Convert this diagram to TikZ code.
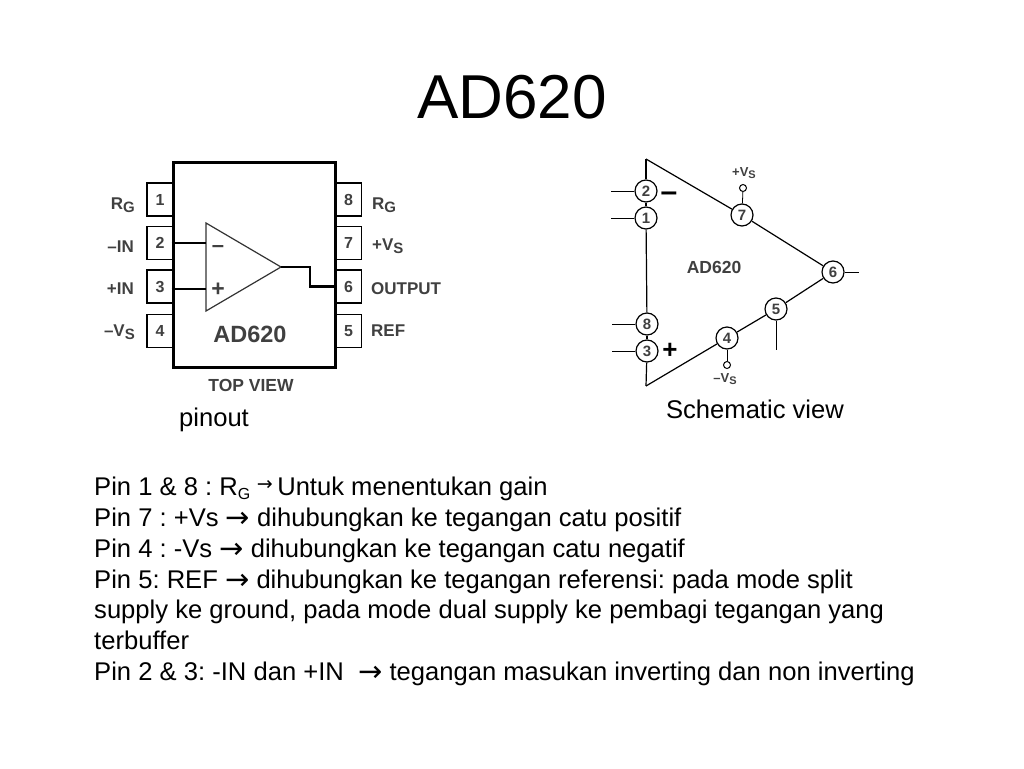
\documentclass[tikz,border=0pt]{standalone}
\usepackage{fontspec}
\setmainfont{Liberation Sans}
\newfontfamily\arrowfont{DejaVu Sans}
\frenchspacing
\newcommand{\sz}[1]{\fontsize{#1}{#1}\selectfont}
\newcommand{\subG}[1]{\raisebox{-3.5pt}{\sz{15}#1}}
\newcommand{\subV}[1]{\raisebox{-2.5pt}{\sz{11}#1}}
\newcommand{\arr}{{\arrowfont\sz{29}\raisebox{-1pt}{→}}}
\tikzset{
	pinbox/.style={draw,line width=1.2pt,minimum width=26pt,minimum height=33pt,inner sep=0pt,text=black!75,font=\sz{16}\bfseries},
	pinname/.style={inner sep=0pt,text=black!75,font=\sz{17}\bfseries},
	pincirc/.style={circle,draw,fill=white,line width=1.2pt,minimum size=22pt,inner sep=0pt,text=black!75,font=\sz{15}\bfseries},
	term/.style={circle,draw,line width=1pt,minimum size=7pt,inner sep=0pt},
	caption/.style={inner sep=0pt,font=\sz{25.6}}
}
\begin{document}
\begin{tikzpicture}[x=1pt,y=-1pt]
	\useasboundingbox (0,0) rectangle (1024,768);
	\node(title)[inner sep=0pt,font=\sz{62}] at (512,97) {AD620};
	\foreach \n/\y in {1/199.5,2/243,3/286.5,4/331}
		\node(pin\n)[pinbox] at (160,\y) {\n};
	\foreach \n/\y in {8/199.5,7/243,6/286.5,5/331}
		\node(pin\n)[pinbox] at (348.5,\y) {\n};
	\node(body)[draw,line width=3pt,fill=white,minimum width=162pt,minimum height=205pt] at (254,264.5) {};
	\coordinate(ina) at (206,243);
	\coordinate(inb) at (206,289);
	\coordinate(tip) at (281,267);
	\coordinate(jog) at (310,267);
	\draw[line width=1.2pt,black!80] (206,223) -- (tip) -- (206,311) -- cycle;
	\draw[line width=2.2pt] (body.west |- ina) -- (ina);
	\draw[line width=2.2pt] (body.west |- inb) -- (inb);
	\draw[line width=2.2pt] (tip) -- (jog) |- (pin6.west);
	\node(minus)[pinname,font=\sz{22}\bfseries] at (218,249) {–};
	\node(plus)[pinname,font=\sz{23}\bfseries] at (218,290) {+};
	\node(chip)[pinname,font=\sz{23.5}\bfseries] at (250,334) {AD620};
	\node(top)[pinname,font=\sz{17.5}\bfseries] at (251,385) {TOP VIEW};
	\node(n1)[pinname,anchor=base east] at (135,209) {R\subG{G}};
	\node(n2)[pinname,anchor=base east] at (134,252) {–IN};
	\node(n3)[pinname,anchor=base east] at (134,294) {+IN};
	\node(n4)[pinname,anchor=base east] at (135,336) {–V\subG{S}};
	\node(n8)[pinname,anchor=base west] at (372,209) {R\subG{G}};
	\node(n7)[pinname,anchor=base west] at (372,250) {+V\subG{S}};
	\node(n6)[pinname,anchor=base west] at (371,294) {OUTPUT};
	\node(n5)[pinname,anchor=base west] at (371,336) {REF};
	\node(pinout)[caption] at (214,420) {pinout};

	\coordinate(topc) at (646,159);
	\coordinate(botc) at (646,386);
	\foreach \n/\x/\y in {2/646/191,1/646/218,8/647/324,3/647/351,7/742/215,6/833/272,5/776/309,4/727/338}
		\node(c\n)[pincirc] at (\x,\y) {\n};
	\draw[line width=1.2pt] (topc) -- (c2);
	\draw[line width=1.2pt] (c2) -- (c1);
	\draw[line width=1.2pt] (c1) -- (c8);
	\draw[line width=1.2pt] (c8) -- (c3);
	\draw[line width=1.2pt] (c3) -- (botc);
	\draw[line width=1.2pt] (botc) -- (c4);
	\draw[line width=1.2pt] (c4) -- (c5);
	\draw[line width=1.2pt] (c5) -- (c6);
	\draw[line width=1.2pt] (c6) -- (c7);
	\draw[line width=1.2pt] (c7) -- (topc);
	\foreach \n in {2,1,8,3} {
		\coordinate(e\n) at ([xshift=-35pt]c\n.center);
		\draw[line width=.8pt] (c\n) -- (e\n);
	}
	\coordinate(e6) at (859,272);
	\draw[line width=.8pt] (c6) -- (e6);
	\coordinate(e5) at (776,350);
	\draw[line width=.8pt] (c5) -- (e5);
	\node(vp)[term] at (743,188) {};
	\node(vm)[term] at (727,365) {};
	\draw[line width=.8pt] (c7) -- (vp);
	\draw[line width=.8pt] (c4) -- (vm);
	\node(vplus)[pinname,font=\sz{13}\bfseries] at (744,173) {+V\subV{S}};
	\node(vminus)[pinname,font=\sz{13}\bfseries] at (725,379) {–V\subV{S}};
	\node(inv)[pinname,font=\sz{30}\bfseries,text=black] at (669,197) {–};
	\node(noninv)[pinname,font=\sz{26}\bfseries,text=black] at (670,351) {+};
	\node(amp)[pinname,font=\sz{17.5}\bfseries] at (714,267) {AD620};
	\node(schem)[caption] at (755,409) {Schematic view};

	\node(notes)[inner sep=0pt,anchor=north west,align=left,font=\fontsize{25.6}{30.8}\selectfont] at (94,477) {%
		Pin 1 \& 8 : R\raisebox{-4pt}{\sz{16}G}\hspace{6.5pt}\raisebox{5pt}{{\arrowfont\sz{19}→}}\hspace{4.5pt}Untuk menentukan gain\\
		Pin 7 : +Vs \arr{} dihubungkan ke tegangan catu positif\\
		Pin 4 : -Vs \arr{} dihubungkan ke tegangan catu negatif\\
		Pin 5: REF \arr{} dihubungkan ke tegangan referensi: pada mode split\\
		supply ke ground, pada mode dual supply ke pembagi tegangan yang\\
		terbuffer\\
		Pin 2 \& 3: -IN dan +IN\ \ \arr{} tegangan masukan inverting dan non inverting};
\end{tikzpicture}
\end{document}
